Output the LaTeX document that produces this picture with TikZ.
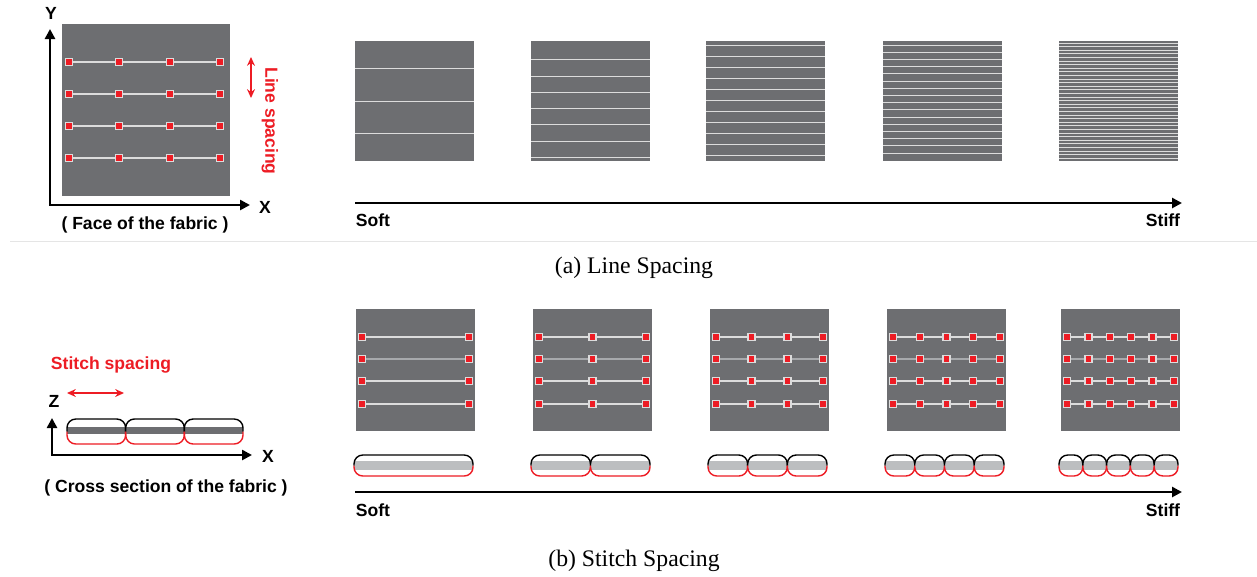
\documentclass[tikz,border=0pt]{standalone}
\usepackage{fontspec}
\setmainfont{Liberation Serif}
\newfontfamily\labelfont{Liberation Sans}
\usetikzlibrary{arrows.meta}
\definecolor{fabricgray}{HTML}{6D6E71}
\definecolor{stitchred}{HTML}{ED1C24}
\definecolor{bandgray}{HTML}{BCBEC0}
\definecolor{seamlight}{HTML}{DCDCDC}
\definecolor{seamdark}{HTML}{A7A9AC}

% row of stitch pills: x left, x right, count, top, bottom, band colour, band top, band bottom
\newcommand{\pillrow}[8]{%
  \pgfmathsetmacro\pillw{(#2-#1)/#3}%
  \pgfmathsetmacro\pillmid{(#4+#5)/2}%
  \foreach \k in {1,...,#3}{%
    \pgfmathsetmacro\pillA{#1+(\k-1)*\pillw}%
    \pgfmathsetmacro\pillB{#1+\k*\pillw}%
    \begin{scope}
      \clip[rounded corners=5pt] (\pillA,#4) rectangle (\pillB,#5);
      \fill[#6] (\pillA,#7) rectangle (\pillB,#8);
    \end{scope}
    \draw[pillline] (\pillA,\pillmid) |- (\pillB,#4) -- (\pillB,\pillmid);
    \draw[pillline,stitchred] (\pillA,\pillmid) |- (\pillB,#5) -- (\pillB,\pillmid);
  }}

\tikzset{
  tag/.style={font={\labelfont\bfseries\fontsize{10}{12}\selectfont},inner sep=0},
  caption/.style={font={\fontsize{13.5}{16}\selectfont},inner sep=0},
  stitch/.style={rectangle,fill=stitchred,draw=seamlight,line width=0.8pt,minimum size=0.14cm,inner sep=0},
  seam/.style={seamlight,line width=0.6pt},
  axis/.style={line width=1.6pt},
  pillline/.style={rounded corners=5pt,line width=0.8pt},
  spacing/.style={stitchred,line width=0.9pt,{Stealth[length=5pt,width=4.5pt]}-{Stealth[length=5pt,width=4.5pt]}}
}

\begin{document}
\begin{tikzpicture}[x=0.02cm,y=-0.02cm,>={Triangle[length=0.2cm,width=0.2cm]}]
\useasboundingbox (0,0) rectangle (1257,576);

% (a) face of the fabric
\fill[fabricgray] (62,24) rectangle (230,196);
\foreach \y [count=\r] in {62,94,126,158}{
  \foreach \x [count=\j,remember=\j as \jp (initially 0)] in {69,119,170,220}{
    \node[stitch] (f-\r-\j) at (\x,\y) {};
    \ifnum\j>1 \draw[seam] (f-\r-\jp) -- (f-\r-\j); \fi
  }
}
\coordinate (ytip) at (50,29);
\coordinate (xtip) at (250,205);
\draw[axis,<->] (ytip) |- (xtip);
\node[tag] (ylab) at (51,13) {Y};
\node[tag] (xlab) at (265,207) {X};
\coordinate (ls1) at (251,57);
\coordinate (ls2) at (251,98);
\draw[spacing] (ls1) -- (ls2);
\node[tag,text=stitchred,rotate=-90] (lspacing) at (270,121) {Line spacing};
\node[tag] (face) at (145,225) {( Face of the fabric )};

\foreach \x/\s/\d in {355/68.7/32.5,531/59.7/16.3,706/45/11,883/45/7.2,1059/43/3.6}{
  \fill[fabricgray] (\x,41) rectangle ++(119,120);
  \pgfmathsetmacro\ynext{\s+\d}
  \foreach \y in {\s,\ynext,...,160}
    \draw[seam,line width=0.5pt] (\x,\y) -- ++(119,0);
}
\coordinate (softa) at (355,203);
\coordinate (stiffa) at (1182,203);
\draw[axis,->] (softa) -- (stiffa);
\node[tag] (softlab) at (373,220) {Soft};
\node[tag] (stifflab) at (1163,220) {Stiff};

\coordinate (sepl) at (10,241);
\coordinate (sepr) at (1257,241);
\draw[gray!20,line width=0.5pt] (sepl) -- (sepr);
\node[caption] (capa) at (634,268) {(a) Line Spacing};

% (b) cross section of the fabric
\node[tag,text=stitchred] (sspacing) at (111,365) {Stitch spacing};
\coordinate (ss1) at (67,393);
\coordinate (ss2) at (124,393);
\draw[spacing] (ss1) -- (ss2);
\coordinate (ztip) at (52,418);
\coordinate (xtipb) at (252,455);
\draw[axis,<->] (ztip) |- (xtipb);
\node[tag] (zlab) at (54,401) {Z};
\node[tag] (xlabb) at (268,456) {X};
\pillrow{67}{243}{3}{419}{444}{fabricgray}{427}{434}
\node[tag] (cross) at (166,488) {( Cross section of the fabric )};

\foreach \x [count=\n] in {356,533,710,887,1061}{
  \fill[fabricgray] (\x,309) rectangle ++(119,122);
  \foreach \y [count=\r] in {337,359,381,404}{
    \foreach \j [remember=\j as \jp (initially 0)] in {0,...,\n}{
      \node[stitch] (s-\n-\r-\j) at ({\x+6+\j*107/\n},\y) {};
      \ifnum\j>0
        \ifnum\r=2 \draw[seam,seamdark,line width=1.2pt] (s-\n-\r-\jp) -- (s-\n-\r-\j);
        \else \draw[seam] (s-\n-\r-\jp) -- (s-\n-\r-\j); \fi
      \fi
    }
  }
  \pillrow{\x-2}{\x+121}{\n}{455}{476}{bandgray}{461}{470}
}
\coordinate (softb) at (355,492);
\coordinate (stiffb) at (1182,492);
\draw[axis,->] (softb) -- (stiffb);
\node[tag] (softlabb) at (373,510) {Soft};
\node[tag] (stifflabb) at (1163,510) {Stiff};
\node[caption] (capb) at (634,561) {(b) Stitch Spacing};
\end{tikzpicture}
\end{document}
